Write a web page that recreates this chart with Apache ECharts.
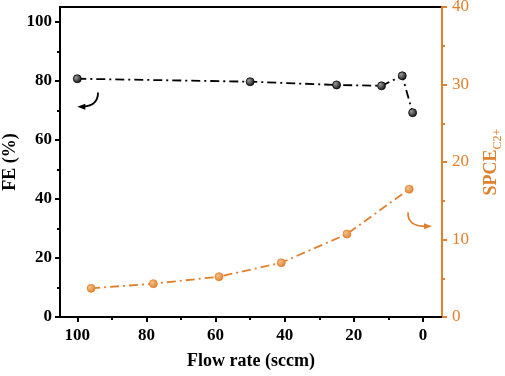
<!DOCTYPE html>
<html>
<head>
<meta charset="utf-8">
<script src="https://cdn.jsdelivr.net/npm/echarts@6/dist/echarts.min.js"></script>
<style>
  html, body { margin: 0; padding: 0; background: #fff; }
  #main { width: 505px; height: 376px; }
</style>
</head>
<body>
<div id="main"></div>
<script>
// flow rate (sccm) and values
var feFlow = [100, 50, 25, 12, 6, 3];
var feValues = [80.7, 79.7, 78.6, 78.3, 81.7, 69.2];
var spceFlow = [96, 78, 59, 41, 22, 4];
var spceValues = [3.7, 4.3, 5.2, 7.0, 10.7, 16.5];
var xTicks = [0, 20, 40, 60, 80, 100];
var xMinor = [10, 30, 50, 70, 90];
var feTicks = [0, 20, 40, 60, 80, 100];
var feMinor = [10, 30, 50, 70, 90];

var orange = '#e0812e';
var font = '"Liberation Serif", "Times New Roman", serif';

var chart = echarts.init(document.getElementById('main'));

function pairs(xs, ys) {
  return xs.map(function (x, i) { return [x, ys[i]]; });
}

var ball = function (c1, c2) {
  return new echarts.graphic.RadialGradient(0.35, 0.35, 0.7, [
    { offset: 0, color: c1 },
    { offset: 1, color: c2 }
  ]);
};

var option = {
  backgroundColor: '#fff',
  animation: false,
  grid: {
    left: 60, right: 63, top: 7, bottom: 59,
    outerBoundsMode: 'none', containLabel: false,
    show: true, borderColor: '#000', borderWidth: 2
  },
  xAxis: [{
    type: 'value', inverse: true, min: -5.5, max: 105,
    position: 'bottom',
    name: 'Flow rate (sccm)', nameLocation: 'middle', nameGap: 35, nameMoveOverlap: false,
    nameTextStyle: { fontFamily: font, fontWeight: 'bold', fontSize: 18, color: '#000' },
    axisLine: { show: true, onZero: false, lineStyle: { color: '#000', width: 2 } },
    axisTick: { show: true, customValues: xTicks, length: 5, lineStyle: { color: '#000', width: 2 } },
    axisLabel: { customValues: xTicks, margin: 10, fontFamily: font, fontWeight: 'bold', fontSize: 17, color: '#000' },
    splitLine: { show: false }
  }, {
    type: 'value', inverse: true, min: -5.5, max: 105,
    position: 'bottom', gridIndex: 0,
    axisLine: { show: false, onZero: false },
    axisTick: { show: true, customValues: xMinor, length: 3, lineStyle: { color: '#000', width: 2 } },
    axisLabel: { show: false },
    splitLine: { show: false }
  }],
  yAxis: [{
    type: 'value', min: 0, max: 105, position: 'left',
    name: 'FE (%)', nameLocation: 'middle', nameGap: 41, nameRotate: 90, nameMoveOverlap: false,
    nameTextStyle: { fontFamily: font, fontWeight: 'bold', fontSize: 18, color: '#000' },
    axisLine: { show: true, onZero: false, lineStyle: { color: '#000', width: 2 } },
    axisTick: { show: true, customValues: feTicks, length: 5, lineStyle: { color: '#000', width: 2 } },
    axisLabel: { customValues: feTicks, margin: 8, fontFamily: font, fontWeight: 'bold', fontSize: 17, color: '#000' },
    splitLine: { show: false }
  }, {
    type: 'value', min: 0, max: 105, position: 'left',
    axisLine: { show: false, onZero: false },
    axisTick: { show: true, customValues: feMinor, length: 3, lineStyle: { color: '#000', width: 2 } },
    axisLabel: { show: false },
    splitLine: { show: false }
  }, {
    type: 'value', min: 0, max: 40, interval: 10, position: 'right',
    name: '{a|SPCE}{b|C2+}', nameLocation: 'middle', nameGap: 38, nameRotate: 90, nameMoveOverlap: false,
    nameTextStyle: {
      color: orange,
      rich: {
        a: { fontFamily: font, fontWeight: 'bold', fontSize: 18, color: orange, verticalAlign: 'bottom', lineHeight: 20 },
        b: { fontFamily: font, fontSize: 12, color: orange, verticalAlign: 'bottom', lineHeight: 14, padding: [0, 0, -4, 0] }
      }
    },
    axisLine: { show: true, onZero: false, lineStyle: { color: orange, width: 2 } },
    axisTick: { show: true, length: 5, lineStyle: { color: orange, width: 2 } },
    minorTick: { show: true, splitNumber: 2, length: 3, lineStyle: { color: orange, width: 2 } },
    axisLabel: { margin: 10, fontFamily: font, fontSize: 17, color: orange },
    splitLine: { show: false }
  }],
  series: [{
    name: 'FE',
    type: 'line',
    xAxisIndex: 0, yAxisIndex: 0,
    data: pairs(feFlow, feValues),
    symbol: 'circle', symbolSize: 8,
    lineStyle: { color: '#000', width: 1.8, type: [9, 4, 2, 4] },
    itemStyle: { color: ball('#9a9a9a', '#111'), borderColor: '#000', borderWidth: 0.8 },
    z: 3
  }, {
    name: 'SPCE',
    type: 'line',
    xAxisIndex: 0, yAxisIndex: 2,
    data: pairs(spceFlow, spceValues),
    symbol: 'circle', symbolSize: 8,
    lineStyle: { color: orange, width: 1.8, type: [9, 4, 2, 4] },
    itemStyle: { color: ball('#f6c08a', orange), borderColor: orange, borderWidth: 0.8 },
    z: 3
  }]
};

chart.setOption(option);

// curved arrows pointing to each series' axis
function px(x, y, yIdx) {
  return chart.convertToPixel({ xAxisIndex: 0, yAxisIndex: yIdx }, [x, y]);
}
var b0 = px(94, 76, 0), b1 = px(100, 71.2, 0);
var o0 = px(4.3, 13.5, 2), o1 = px(-2.6, 11.7, 2);
chart.setOption({
  graphic: [{
    type: 'bezierCurve',
    shape: { x1: b0[0], y1: b0[1], cpx1: b0[0], cpy1: b1[1] - 1, x2: b1[0] + 6, y2: b1[1] },
    style: { stroke: '#000', lineWidth: 1.8, fill: null }
  }, {
    type: 'polygon',
    shape: { points: [[b1[0], b1[1]], [b1[0] + 8, b1[1] - 3], [b1[0] + 8, b1[1] + 3]] },
    style: { fill: '#000' }
  }, {
    type: 'bezierCurve',
    shape: { x1: o0[0], y1: o0[1], cpx1: o0[0] - 1, cpy1: o1[1], x2: o1[0] - 6, y2: o1[1] },
    style: { stroke: orange, lineWidth: 1.8, fill: null }
  }, {
    type: 'polygon',
    shape: { points: [[o1[0], o1[1]], [o1[0] - 8, o1[1] - 3], [o1[0] - 8, o1[1] + 3]] },
    style: { fill: orange }
  }]
});
</script>
</body>
</html>
